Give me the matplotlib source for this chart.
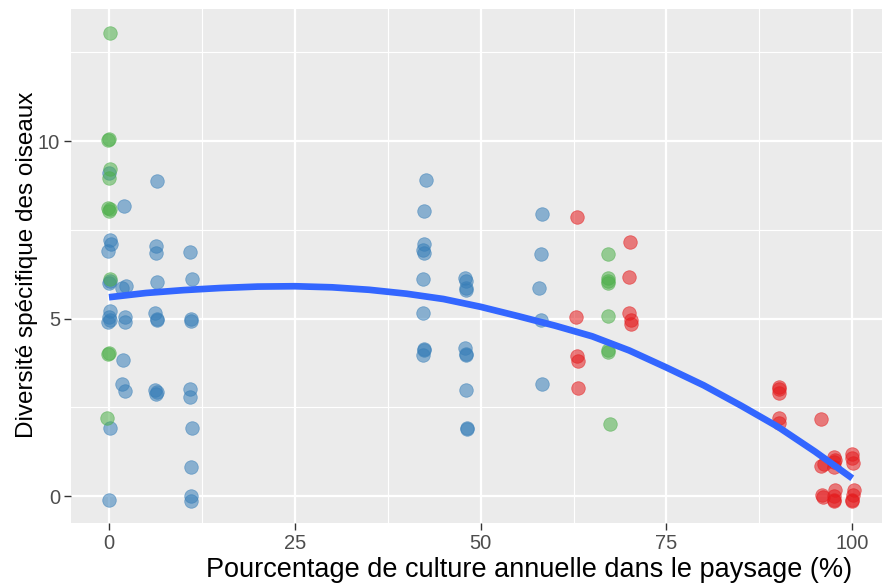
import numpy as np
import matplotlib.pyplot as plt

# points by group (x = % culture annuelle, y = diversite)
blue_x = [0.0, 0.1, 0.3, -0.1, 0.2, 0.0, 0.1, 0.0, 0.1, -0.1, 0.1, 0.0,
          2.0, 2.3, 1.8, 2.2, 2.2, 1.9, 1.8, 2.2,
          6.5, 6.3, 6.3, 6.5, 6.2, 6.4, 6.4, 6.2, 6.4, 6.3,
          10.9, 11.2, 11.0, 11.0, 10.9, 10.9, 11.2, 11.0, 11.0, 11.0,
          42.6, 42.4, 42.4, 42.3, 42.4, 42.3, 42.3, 42.4, 42.4, 42.3,
          47.9, 48.0, 48.0, 48.0, 47.9, 48.0, 48.0, 48.0, 48.1, 48.1,
          58.2, 58.1, 57.9, 58.1, 58.2]
blue_y = [9.1, 7.2, 7.1, 6.9, 6.05, 6.0, 5.2, 5.05, 4.95, 4.9, 1.93, -0.1,
          8.18, 5.93, 5.85, 5.05, 4.9, 3.82, 3.16, 2.97,
          8.88, 7.04, 6.85, 6.04, 5.15, 5.0, 4.97, 2.99, 2.92, 2.88,
          6.88, 6.1, 5.0, 4.93, 3.02, 2.8, 1.93, 0.83, 0.01, -0.14,
          8.9, 8.04, 7.09, 6.93, 6.85, 6.1, 5.15, 4.13, 4.1, 3.96,
          6.13, 6.06, 5.85, 5.8, 4.16, 4.0, 3.98, 2.99, 1.93, 1.9,
          7.94, 6.83, 5.85, 4.96, 3.15]

green_x = [0.1, 0.0, -0.1, 0.1, 0.0, -0.1, 0.0, 0.1, 0.1, 0.0, -0.1, -0.2,
           67.2, 67.2, 67.1, 67.2, 67.2, 67.1, 67.1, 67.4]
green_y = [13.04, 10.06, 10.04, 9.2, 8.95, 8.1, 8.04, 8.08, 6.1, 4.02, 4.0, 2.19,
           6.83, 6.13, 6.01, 6.06, 5.07, 4.11, 4.05, 2.03]

red_x = [62.9, 62.8, 62.9, 63.1, 63.1,
         70.1, 70.0, 70.0, 70.2, 70.2,
         90.2, 90.2, 90.1, 90.2, 90.1,
         95.8, 95.8, 96.2, 95.9, 96.1,
         97.6, 97.7, 97.6, 97.6, 97.7, 97.6, 97.6, 97.5,
         99.9, 100.0, 100.1, 100.2, 100.1, 100.0, 99.9]
red_y = [7.87, 5.05, 3.94, 3.8, 3.03,
         7.15, 6.18, 5.15, 4.96, 4.86,
         3.08, 3.02, 2.89, 2.19, 2.07,
         2.17, 0.85, 0.9, 0.02, -0.02,
         1.09, 1.02, 0.97, 0.83, 0.17, 0.0, -0.1, -0.15,
         1.18, 1.06, 0.92, 0.17, 0.03, -0.1, -0.15]

# smoother values
smooth_x = [0, 5, 10, 15, 20, 25, 30, 35, 40, 45, 50,
            55, 60, 65, 70, 75, 80, 85, 90, 95, 100]
smooth_y = [5.6, 5.72, 5.8, 5.86, 5.9, 5.91, 5.88, 5.81, 5.7, 5.55, 5.33,
            5.07, 4.8, 4.5, 4.1, 3.62, 3.12, 2.55, 1.95, 1.25, 0.5]

xticks = [0, 25, 50, 75, 100]
yticks = [0, 5, 10]

plt.rcParams['font.family'] = ['Liberation Sans', 'DejaVu Sans']

W, H = 882, 583
fig = plt.figure(figsize=(W / 100, H / 100), dpi=100)
ax = fig.add_axes([71 / W, 60 / H, 1 - 71 / W, 514 / H])
ax.set_facecolor('#EBEBEB')
for s in ax.spines.values():
    s.set_visible(False)

ax.set_xlim(-5.11, 104.0)
ax.set_ylim(-0.76, 13.72)
ax.set_xticks(xticks)
ax.set_yticks(yticks)
ax.set_xticks([12.5, 37.5, 62.5, 87.5], minor=True)
ax.set_yticks([2.5, 7.5, 12.5], minor=True)
ax.grid(which='major', color='white', linewidth=1.6)
ax.grid(which='minor', color='white', linewidth=0.8)
ax.set_axisbelow(True)
ax.tick_params(which='major', length=5, width=1, color='#333333',
               labelcolor='#4D4D4D', labelsize=14.5, pad=3)
ax.tick_params(which='minor', length=0)

pt = dict(s=95, alpha=0.55, linewidths=0.6, zorder=3)
ax.scatter(blue_x, blue_y, color='#377EB8', **pt)
ax.scatter(green_x, green_y, color='#4DAF4A', **pt)
ax.scatter(red_x, red_y, color='#E41A1C', **pt)

ax.plot(smooth_x, smooth_y, color='#3366FF', linewidth=4.8,
        solid_capstyle='butt', zorder=4)

fig.text(529 / W, 1 - 577 / H,
         'Pourcentage de culture annuelle dans le paysage (%)',
         fontsize=19.5, color='black', ha='center', va='baseline')
fig.text(33 / W, 1 - 265 / H, 'Diversité spécifique des oiseaux',
         fontsize=17.5, color='black', rotation=90, rotation_mode='anchor',
         ha='center', va='baseline')

fig.savefig('out.png', dpi=100)
